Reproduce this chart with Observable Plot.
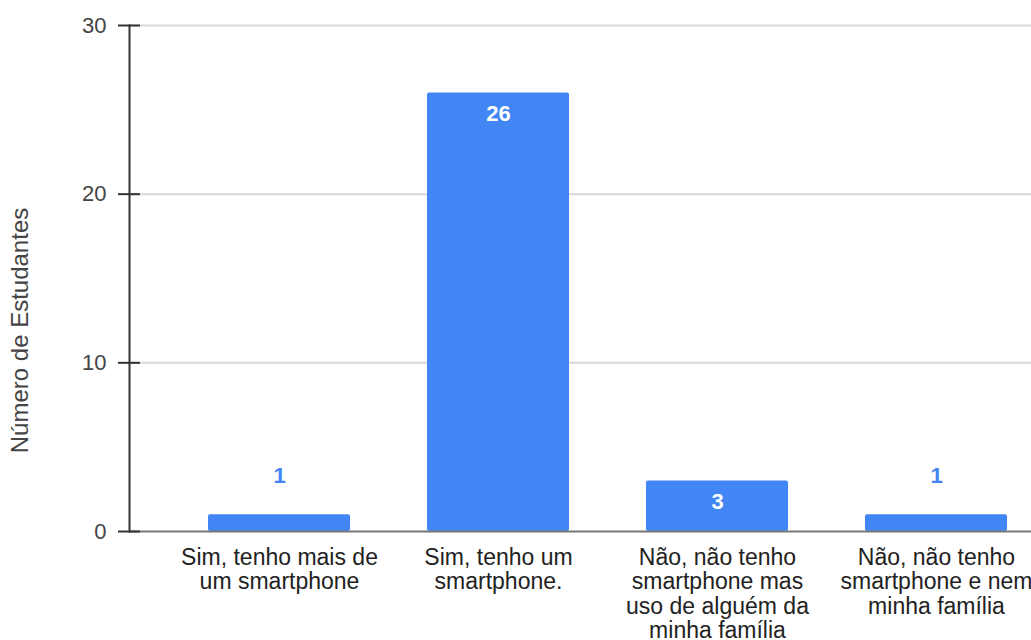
<!DOCTYPE html>
<html><head><meta charset="utf-8">
<script src="https://cdn.jsdelivr.net/npm/d3@7"></script>
<script src="https://cdn.jsdelivr.net/npm/@observablehq/plot@0.6"></script>
<style>body{margin:0;background:#fff;overflow:hidden}</style>
</head><body><div id="chart"></div>
<script>
const categories = [
  "Sim, tenho mais de um smartphone",
  "Sim, tenho um smartphone.",
  "Não, não tenho smartphone mas uso de alguém da minha família",
  "Não, não tenho smartphone e nem minha família"
];
const tickLabels = [
  "Sim, tenho mais de\num smartphone",
  "Sim, tenho um\nsmartphone.",
  "Não, não tenho\nsmartphone mas\nuso de alguém da\nminha família",
  "Não, não tenho\nsmartphone e nem\nminha família"
];
const values = [1, 26, 3, 1];
const yTicks = [0, 10, 20, 30];
const yLabel = "Número de Estudantes";

const data = categories.map((c, i) => ({category: c, value: values[i]}));
const labelOf = new Map(categories.map((c, i) => [c, tickLabels[i]]));
const font = "Arial, 'Liberation Sans', sans-serif";
const blue = "#4285F4";

const plot = Plot.plot({
  width: 1031, height: 640,
  marginLeft: 129, marginRight: 0, marginTop: 25, marginBottom: 109,
  style: {fontFamily: font, background: "white"},
  x: {domain: categories, range: [168, 1047], paddingInner: 0.35, paddingOuter: 0.175, axis: null},
  y: {domain: [0, 30], axis: null},
  marks: [
    Plot.ruleY(yTicks.filter(t => t > 0), {stroke: "#d9d9d9", strokeWidth: 2}),
    Plot.barY(data, {x: "category", y: "value", fill: blue, rx: 2}),
    Plot.ruleY([0], {stroke: "#777", strokeWidth: 2}),
    Plot.frame({anchor: "left", stroke: "#333", strokeWidth: 2}),
    Plot.axisY({ticks: yTicks, tickSize: 22, dx: 11, tickPadding: 12, fontSize: 22, fill: "#444", stroke: "#333", strokeWidth: 2, label: null, tickFormat: d => String(d)}),
    Plot.axisX({tickSize: 0, tickPadding: 16, tickFormat: d => labelOf.get(d), fontSize: 23, fill: "#222", lineHeight: 1.06, label: null}),
    Plot.text(data, {filter: d => d.value >= 3, x: "category", y: "value", text: d => String(d.value), dy: 21, fill: "white", fontWeight: "bold", fontSize: 22}),
    Plot.text(data, {filter: d => d.value < 3, x: "category", y: "value", text: d => String(d.value), dy: -39, fill: blue, fontWeight: "bold", fontSize: 22}),
    Plot.text([yLabel], {frameAnchor: "left", rotate: -90, dx: -109, dy: 52, fontSize: 24, fill: "#444", textAnchor: "middle", lineAnchor: "middle"})
  ]
});
document.getElementById("chart").appendChild(plot);
</script>
</body></html>
